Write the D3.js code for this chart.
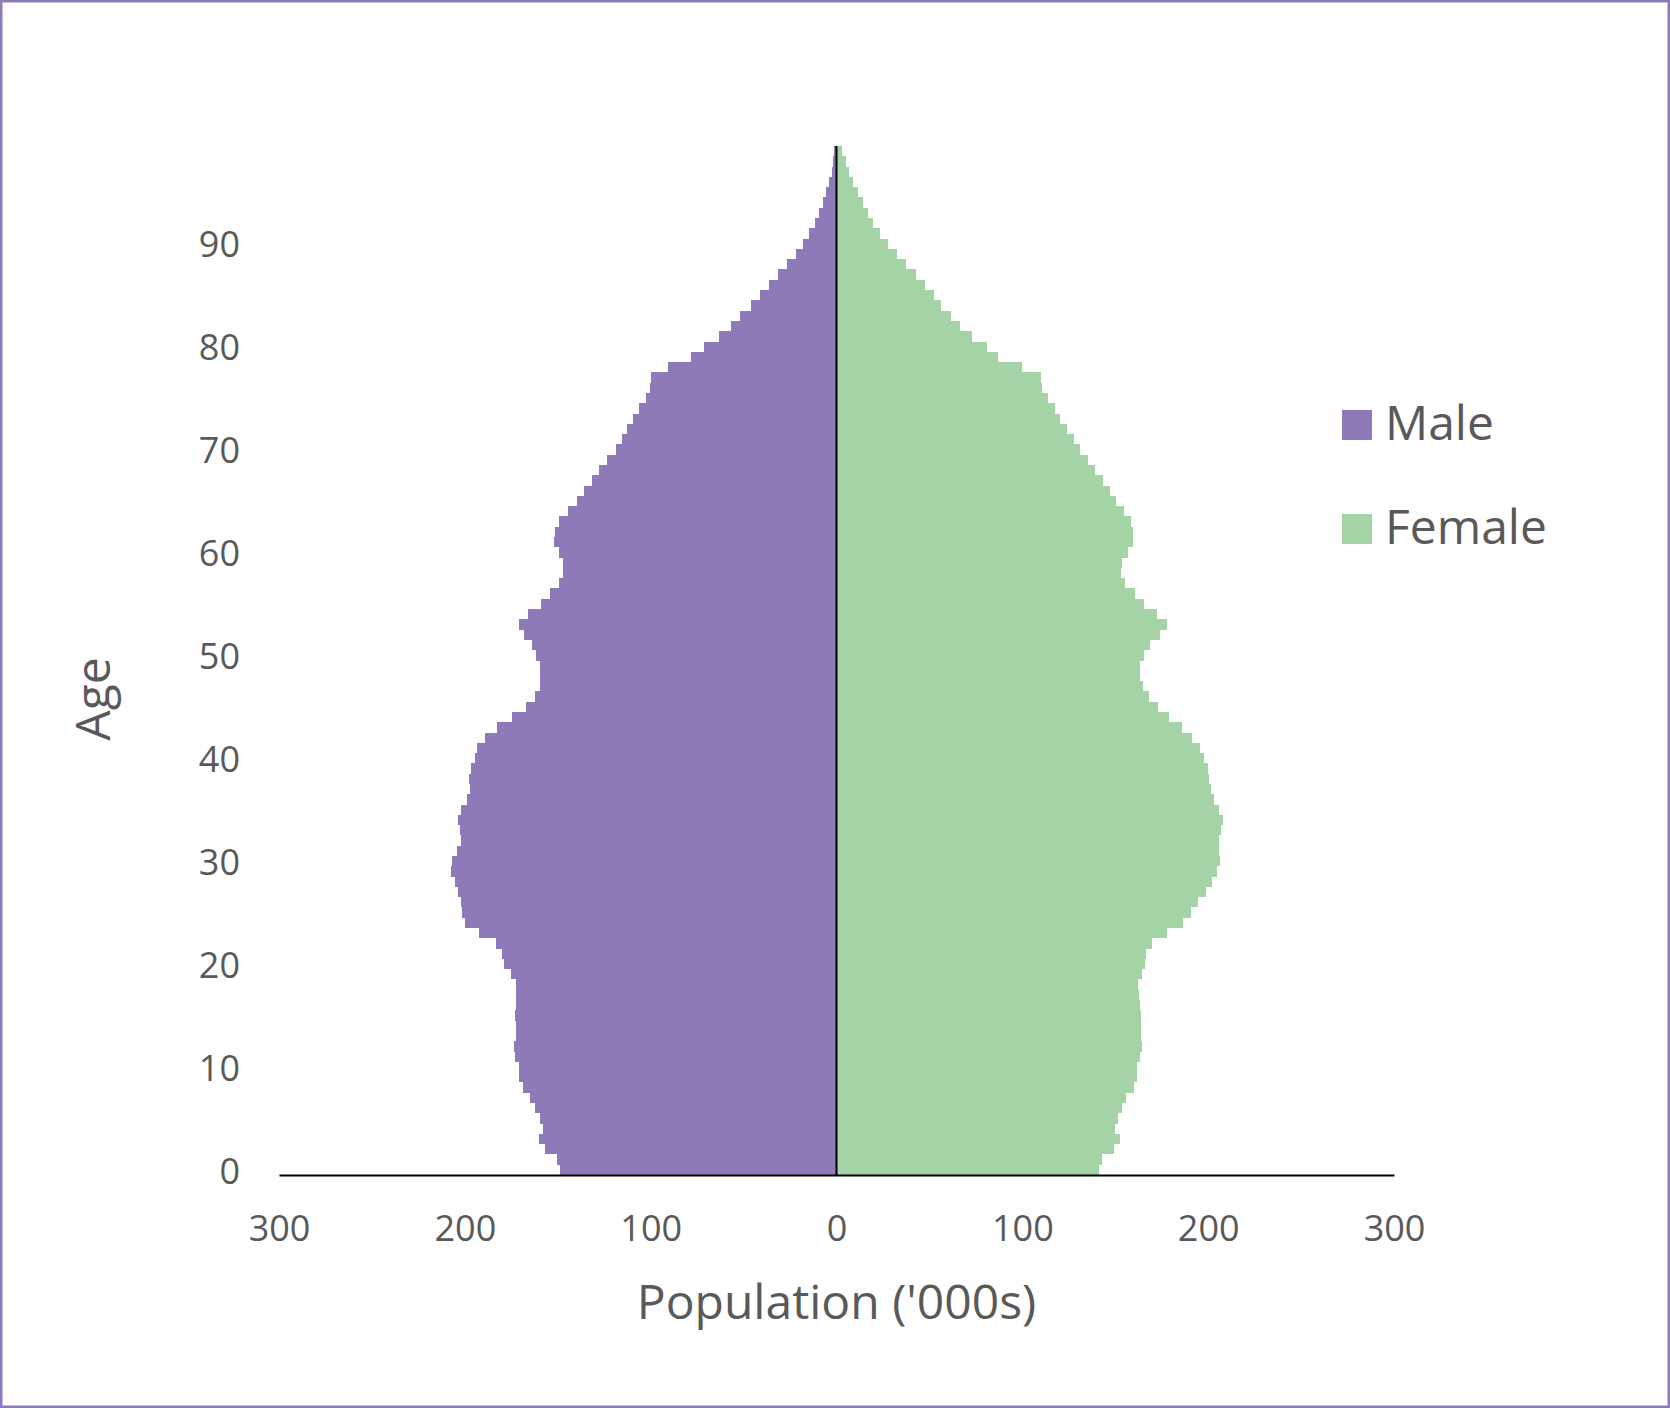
<!DOCTYPE html>
<html>
<head>
<meta charset="utf-8">
<script src="https://cdn.jsdelivr.net/npm/d3@7"></script>
<style>
  body { margin: 0; background: #fff; }
  svg text { font-family: "Open Sans", sans-serif; fill: #595959; }
</style>
</head>
<body>
<div id="pyramid"></div>
<script>
// age pyramid, population in thousands

var ages = d3.range(0, 100);

var male = [
  148.9, 150.5, 156.8, 160.0, 158.1, 159.7, 162.2, 165.1, 168.7, 171.0,
  171.0, 173.0, 173.5, 172.6, 172.6, 173.0, 172.6, 172.6, 172.6, 175.3,
  179.1, 180.1, 183.4, 192.5, 200.1, 201.5, 202.2, 203.7, 205.4, 207.6,
  206.9, 204.4, 202.2, 202.7, 203.7, 202.2, 198.8, 197.4, 197.7, 196.8,
  194.7, 193.6, 189.3, 182.8, 174.8, 167.2, 162.4, 159.3, 159.3, 159.8,
  161.8, 164.0, 168.3, 171.0, 166.1, 159.1, 154.3, 149.5, 147.3, 147.3,
  149.5, 152.2, 151.6, 149.5, 144.6, 139.8, 136.0, 131.7, 127.9, 123.6,
  118.8, 115.6, 112.9, 109.6, 106.4, 102.6, 100.5, 99.9, 90.8, 78.4,
  71.4, 63.3, 56.9, 52.0, 46.1, 41.3, 36.4, 31.6, 26.7, 21.9,
  18.1, 14.9, 11.7, 9.5, 7.4, 5.8, 4.1, 2.5, 2.0, 1.5
];

var female = [
  141.2, 142.8, 149.2, 152.5, 149.8, 151.4, 153.6, 155.7, 160.0, 161.6,
  161.6, 163.2, 164.3, 163.8, 163.8, 163.8, 163.2, 162.7, 162.2, 164.3,
  165.9, 166.5, 169.7, 177.8, 186.4, 190.7, 194.5, 198.8, 202.0, 204.7,
  206.3, 205.8, 205.8, 206.8, 207.9, 205.8, 203.1, 201.5, 200.4, 199.8,
  197.7, 195.5, 191.2, 185.8, 178.8, 172.9, 168.1, 164.9, 163.2, 163.2,
  165.4, 168.6, 174.0, 177.8, 172.4, 165.4, 160.5, 155.2, 153.0, 153.6,
  156.8, 159.5, 159.5, 158.4, 154.6, 150.3, 147.1, 143.3, 139.0, 135.3,
  130.9, 127.7, 124.0, 120.2, 117.5, 113.6, 110.5, 110.0, 99.7, 86.8,
  80.9, 72.8, 66.4, 61.5, 56.1, 52.4, 47.5, 42.7, 37.3, 32.5,
  27.6, 23.3, 19.9, 16.8, 14.2, 11.5, 8.8, 6.6, 5.0, 3.2
];

var xTicks = [-300, -200, -100, 0, 100, 200, 300];
var yTicks = [0, 10, 20, 30, 40, 50, 60, 70, 80, 90];
var seriesNames = ["Male", "Female"];

var colors = {Male: "#8e7ab8", Female: "#a4d4a6"};

var W = 1670, H = 1408;
var margin = {top: 146, right: 276, bottom: 233, left: 279},
    width = W - margin.left - margin.right,
    height = H - margin.top - margin.bottom;

var svg = d3.select("#pyramid")
  .append("svg")
    .attr("width", W)
    .attr("height", H);

// outer frame
svg.append("rect")
  .attr("x", 1.25)
  .attr("y", 1.25)
  .attr("width", W - 2.5)
  .attr("height", H - 2.5)
  .attr("fill", "#fff")
  .attr("stroke", "#8e7ab8")
  .attr("stroke-width", 2.5);

var g = svg.append("g")
  .attr("transform", "translate(" + margin.left + "," + margin.top + ")");

var x = d3.scaleLinear()
  .domain([-300, 300])
  .range([0, width]);

var y = d3.scaleBand()
  .domain(ages)
  .range([height, 0])
  .padding(0);

var rows = ages.map(function(a, i) { return {age: a, m: male[i], f: female[i]}; });

g.append("g")
  .selectAll("rect")
  .data(rows)
  .enter()
  .append("rect")
    .attr("x", function(d) { return x(-d.m); })
    .attr("y", function(d) { return y(d.age); })
    .attr("width", function(d) { return x(0) - x(-d.m); })
    .attr("height", y.bandwidth())
    .attr("fill", colors.Male)
    .attr("shape-rendering", "crispEdges");

g.append("g")
  .selectAll("rect")
  .data(rows)
  .enter()
  .append("rect")
    .attr("x", x(0))
    .attr("y", function(d) { return y(d.age); })
    .attr("width", function(d) { return x(d.f) - x(0); })
    .attr("height", y.bandwidth())
    .attr("fill", colors.Female)
    .attr("shape-rendering", "crispEdges");

// x axis
var xAxis = g.append("g")
  .attr("transform", "translate(0," + height + ")")
  .call(d3.axisBottom(x)
    .tickValues(xTicks)
    .tickFormat(function(d) { return Math.abs(d); })
    .tickSize(0)
    .tickPadding(40));
xAxis.select(".domain")
  .attr("stroke", "#000")
  .attr("stroke-width", 2);
xAxis.selectAll("text")
  .attr("font-size", 36)
  .attr("fill", "#595959");

// y axis labels sit at the left of the plot
var yAxis = g.append("g")
  .call(d3.axisLeft(y)
    .tickValues(yTicks)
    .tickSize(0)
    .tickPadding(39));
yAxis.select(".domain").remove();
yAxis.selectAll("text")
  .attr("font-size", 36)
  .attr("dy", "0.38em")
  .attr("fill", "#595959");

// zero line
g.append("line")
  .attr("x1", x(0))
  .attr("x2", x(0))
  .attr("y1", 0)
  .attr("y2", height)
  .attr("stroke", "#000")
  .attr("stroke-width", 2);

// axis titles
svg.append("text")
  .text("Population ('000s)")
  .attr("text-anchor", "middle")
  .attr("font-size", 48)
  .attr("x", margin.left + x(0))
  .attr("y", 1319);

svg.append("g")
  .attr("transform", "translate(110," + 699 + ")")
  .append("text")
  .text("Age")
  .attr("text-anchor", "middle")
  .attr("font-size", 48)
  .attr("transform", "rotate(-90)");

// legend
var legend = svg.append("g")
  .attr("transform", "translate(1342,410)");

var item = legend.selectAll("g")
  .data(seriesNames)
  .enter()
  .append("g")
    .attr("transform", function(d, i) { return "translate(0," + (i * 104) + ")"; });

item.append("rect")
  .attr("width", 30)
  .attr("height", 30)
  .attr("fill", function(d) { return colors[d]; });

item.append("text")
  .text(function(d) { return d; })
  .attr("x", 43)
  .attr("y", 30)
  .attr("font-size", 48);
</script>
</body>
</html>
